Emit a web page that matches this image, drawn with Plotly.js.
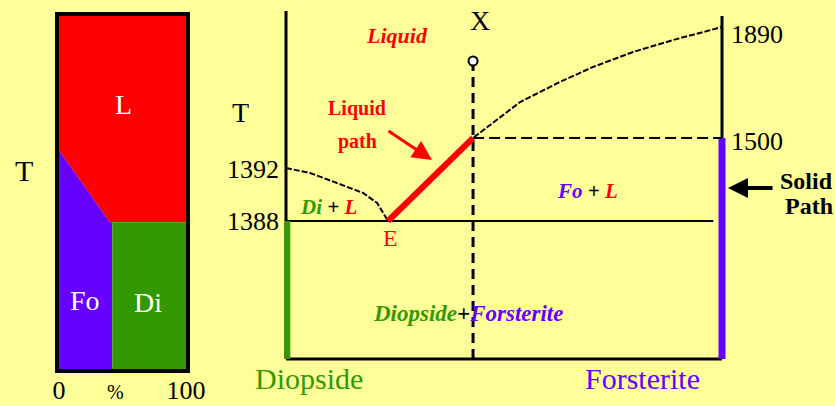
<!DOCTYPE html>
<html>
<head>
<meta charset="utf-8">
<script src="https://cdn.plot.ly/plotly-3.0.1.min.js"></script>
<style>
  html, body { margin: 0; padding: 0; background: #ffff99; }
  #chart { width: 835px; height: 406px; }
</style>
</head>
<body>
<div id="chart"></div>
<script>
// main diagram: x = composition (% Fo, Diopside 0 -> Forsterite 100), y = schematic temperature level
const liqDiComp = [0, 5.5, 11.7, 17.7, 20.9, 23.4];
const liqDiLevel = [191, 186, 176, 166, 156, 138];
const liqFoComp = [23.4, 42.9, 53.7, 62.8, 70.4, 79.6, 88.8, 98.9, 100];
const liqFoLevel = [138, 221, 257, 277, 292, 307, 319, 331, 332];
const pathComp = [23.4, 42.9];
const pathLevel = [138, 221];
const bulkX = 42.9;
const eutecticLevel = 138;
const foMeltLevel = 221;
const xStartLevel = 298;
const topLevel = 348;
const leftTicks = [138, 190];
const leftTickText = ["1388", "1392"];
const rightTicks = [218, 325];
const rightTickText = ["1500", "1890"];

// small panel: phase fields, % along x, height along y
const redFieldX = [0, 40, 100, 100, 0];
const redFieldY = [62, 41.6, 41.6, 100, 100];
const foFieldX = [0, 42, 42, 40, 0];
const foFieldY = [0, 0, 41.6, 41.6, 62];
const diFieldX = [42, 100, 100, 42];
const diFieldY = [0, 0, 41.6, 41.6];

const RED = "#ff0000";
const PURPLE = "#6600ff";
const GREEN = "#339900";
const BG = "#ffff99";
const SERIF = "Liberation Serif, Times New Roman, serif";

function line(x, y, color, width, dash) {
  return {
    x, y, xaxis: "x", yaxis: "y", type: "scatter", mode: "lines",
    line: { color, width, dash: dash || "solid" }, hoverinfo: "skip"
  };
}

function field(x, y, color) {
  return {
    x, y, xaxis: "x2", yaxis: "y3", type: "scatter", mode: "none",
    fill: "toself", fillcolor: color, hoverinfo: "skip"
  };
}

const traces = [
  field(redFieldX, redFieldY, RED),
  field(foFieldX, foFieldY, PURPLE),
  field(diFieldX, diFieldY, GREEN),
  line(liqDiComp, liqDiLevel, "#000", 2, "6px,2px"),
  line(liqFoComp, liqFoLevel, "#000", 2, "6px,2px"),
  line([0, 98], [eutecticLevel, eutecticLevel], "#000", 2),
  line([0, 100], [0, 0], "#000", 3),
  line([0, 0], [0, topLevel], "#000", 3),
  line([0.3, 0.3], [0, eutecticLevel], GREEN, 6),
  line([100, 100], [foMeltLevel, topLevel - 5], "#000", 3),
  line([100, 100], [0, foMeltLevel], PURPLE, 7),
  line([bulkX, bulkX], [0, xStartLevel], "#000", 3, "10px,6px"),
  line([bulkX, 100], [foMeltLevel, foMeltLevel], "#000", 2, "11px,5px"),
  line(pathComp, pathLevel, RED, 6),
  {
    x: [bulkX], y: [xStartLevel], xaxis: "x", yaxis: "y", type: "scatter", mode: "markers",
    marker: { size: 9, color: "#fff", line: { color: "#000", width: 2 } },
    hoverinfo: "skip", cliponaxis: false
  }
];

function at(px, py) {
  return { x: px / 835, y: 1 - py / 406, xref: "paper", yref: "paper" };
}

function label(text, px, py, size, color, extra) {
  return Object.assign(at(px, py), {
    text, showarrow: false, xanchor: "center", yanchor: "middle",
    font: { family: SERIF, size, color }
  }, extra || {});
}

const annotations = [
  label("T", 24, 170, 30, "#000"),
  label("L", 123, 105, 28, "#fff"),
  label("Fo", 85, 300, 28, "#fff"),
  label("Di", 148, 302, 28, "#fff"),
  label("%", 115, 392, 20, "#000"),
  label("T", 240, 113, 28, "#000"),
  label("X", 480, 20, 28, "#000"),
  label("<i><b>Liquid</b></i>", 397, 35, 22, RED),
  label("<b>Liquid</b>", 357, 109, 20, RED),
  label("<b>path</b>", 357, 141, 20, RED),
  label("<i><b><span style='color:" + GREEN + "'>Di</span> + <span style='color:" + RED + "'>L</span></b></i>", 328, 207, 21, "#000"),
  label("E", 390, 238, 24, RED),
  label("<i><b><span style='color:" + PURPLE + "'>Fo</span> + <span style='color:" + RED + "'>L</span></b></i>", 587, 191, 21, "#000"),
  label("<i><b><span style='color:" + GREEN + "'>Diopside</span>+<span style='color:" + PURPLE + "'>Forsterite</span></b></i>", 468, 313, 23, "#000"),
  label("Diopside", 309, 378, 30, GREEN),
  label("Forsterite", 642, 378, 30, PURPLE),
  label("<b>Solid</b>", 806, 181, 24, "#000"),
  label("<b>Path</b>", 809, 206, 24, "#000"),
  Object.assign(at(432, 160), {
    text: "", showarrow: true, ax: -45, ay: -30,
    arrowcolor: RED, arrowwidth: 3, arrowhead: 2, arrowsize: 1.3
  }),
  Object.assign(at(728, 188), {
    text: "", showarrow: true, ax: 46, ay: 0,
    arrowcolor: "#000", arrowwidth: 4, arrowhead: 2, arrowsize: 1
  })
];

const hidden = { showgrid: false, zeroline: false, showticklabels: false, ticks: "", fixedrange: true };

const layout = {
  width: 835,
  height: 406,
  margin: { l: 0, r: 0, t: 0, b: 0 },
  paper_bgcolor: BG,
  plot_bgcolor: "rgba(0,0,0,0)",
  showlegend: false,
  xaxis: Object.assign({}, hidden, {
    domain: [280 / 835, 730 / 835], range: [-6 / 4.36, 444 / 4.36], anchor: "y"
  }),
  yaxis: Object.assign({}, hidden, {
    domain: [42 / 406, 398 / 406], range: [-5, 351], anchor: "x",
    showticklabels: true, tickvals: leftTicks, ticktext: leftTickText,
    tickfont: { family: SERIF, size: 26, color: "#000" }, ticklabelstandoff: 0
  }),
  yaxis2: Object.assign({}, hidden, {
    overlaying: "y", side: "right", anchor: "x", range: [-5, 351],
    showticklabels: true, tickvals: rightTicks, ticktext: rightTickText,
    tickfont: { family: SERIF, size: 26, color: "#000" }, ticklabelstandoff: 0
  }),
  xaxis2: Object.assign({}, hidden, {
    domain: [59 / 835, 186 / 835], range: [0, 100], anchor: "y3",
    showline: true, mirror: true, linewidth: 4, linecolor: "#000",
    showticklabels: true, tickvals: [0, 100], ticktext: ["0", "100"],
    tickfont: { family: SERIF, size: 26, color: "#000" }, ticklabelstandoff: -5
  }),
  yaxis3: Object.assign({}, hidden, {
    domain: [37 / 406, 390 / 406], range: [0, 100], anchor: "x2",
    showline: true, mirror: true, linewidth: 4, linecolor: "#000"
  }),
  annotations
};

// dummy trace so the right-hand axis is drawn
traces.push({ x: [bulkX], y: [0], xaxis: "x", yaxis: "y2", type: "scatter", mode: "markers",
  marker: { opacity: 0 }, hoverinfo: "skip" });

Plotly.newPlot("chart", traces, layout, { displayModeBar: false, staticPlot: true });
</script>
</body>
</html>
